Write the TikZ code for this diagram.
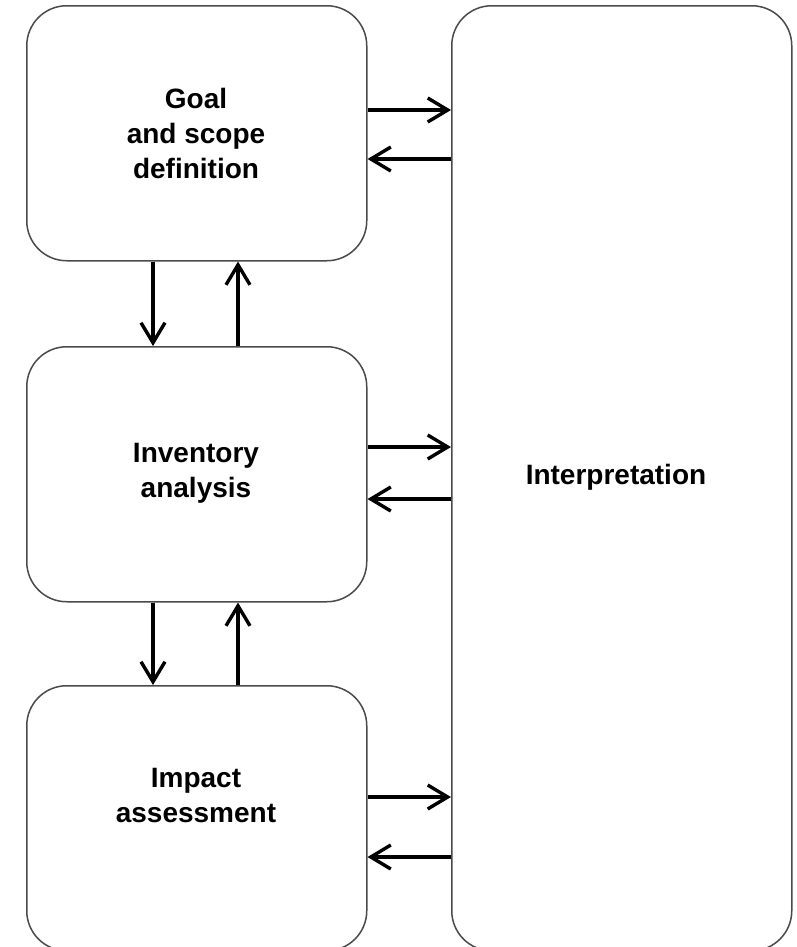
\documentclass[tikz,border=0pt]{standalone}
\usepackage{fontspec}
\setmainfont{Liberation Sans}
\usetikzlibrary{arrows.meta}
\definecolor{edge}{HTML}{4A4A4A}
\begin{document}
\begin{tikzpicture}[x=1bp,y=-1bp,
  stage/.style={draw=edge,line width=1.5bp,rounded corners=40bp,rectangle,anchor=north west,inner sep=0pt},
  label/.style={font=\fontsize{28bp}{35bp}\selectfont\bfseries,align=center,text=black},
  flow/.style={line width=3.4bp,-{Straight Barb[length=20bp,width=24bp]}}]
\useasboundingbox (0,0) rectangle (797,947);
\clip (0,0) rectangle (797,947);
% the three stage boxes on the left and the tall box on the right
\node[stage,minimum width=340bp,minimum height=255bp] (goal) at (26,5) {};
\node[stage,minimum width=340bp,minimum height=255bp] (inv) at (26,346) {};
\node[stage,minimum width=340bp,minimum height=265bp] (imp) at (26,685) {};
\node[stage,minimum width=340bp,minimum height=945bp] (interp) at (451,5) {};
% box titles
\node[label] (tgoal) at (196,133) {Goal\\and scope\\definition};
\node[label] (tinv) at (196,473) {Inventory\\analysis};
\node[label] (timp) at (196,795) {Impact\\assessment};
\node[label] (tint) at (616,477) {Interpretation};
% links between stages
\draw[flow] (goal.south -| 153,0) -- (inv.north -| 153,0);
\draw[flow] (inv.north -| 238,0) -- (goal.south -| 238,0);
\draw[flow] (inv.south -| 153,0) -- (imp.north -| 153,0);
\draw[flow] (imp.north -| 238,0) -- (inv.south -| 238,0);
% links to and from interpretation
\draw[flow] (goal.east |- 0,110) -- (interp.west |- 0,110);
\draw[flow] (interp.west |- 0,159) -- (goal.east |- 0,159);
\draw[flow] (inv.east |- 0,447) -- (interp.west |- 0,447);
\draw[flow] (interp.west |- 0,499) -- (inv.east |- 0,499);
\draw[flow] (imp.east |- 0,797) -- (interp.west |- 0,797);
\draw[flow] (interp.west |- 0,857) -- (imp.east |- 0,857);
\end{tikzpicture}
\end{document}
